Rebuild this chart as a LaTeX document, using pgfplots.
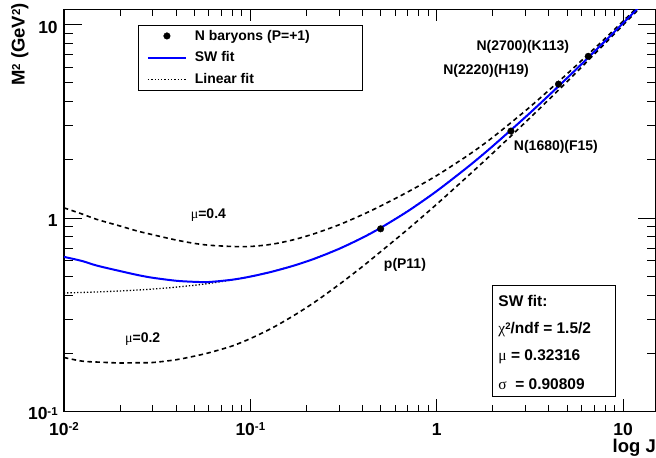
\documentclass[border=0pt]{standalone}
\usepackage{fontspec}
\setmainfont{Liberation Sans}
\newfontfamily\grk{Liberation Serif}
\usepackage{pgfplots}
\pgfplotsset{compat=1.18}
\newcommand{\supT}[1]{\raisebox{4.6pt}{\fontsize{11.5}{12}\selectfont\bfseries #1}}
\newcommand{\supS}[1]{\raisebox{4.2pt}{\fontsize{9.5}{10}\selectfont\bfseries #1}}
\newcommand{\gk}[1]{{\grk\mdseries #1}}
\definecolor{rootblue}{RGB}{0,0,255}
\begin{document}
\begin{tikzpicture}
\begin{axis}[
  name=ax,
  xmode=log, ymode=log,
  scale only axis, width=593pt, height=402.5pt,
  xmin=0.01, xmax=15, ymin=0.1, ymax=12,
  clip mode=individual,
  axis line style={line width=1.3pt},
  tick style={line width=1pt, black},
  xtick style={/pgfplots/major tick length=12pt, /pgfplots/minor tick length=6.7pt},
  ytick style={/pgfplots/major tick length=17.7pt, /pgfplots/minor tick length=8.7pt},
  xtick={0.01,0.1,1,10},
  ytick={0.1,1,10},
  xticklabels={10\supT{-2}, 10\supT{-1}, 1, 10},
  yticklabels={10\supT{-1}, 1, 10},
  xticklabel style={font=\fontsize{17.5}{18}\selectfont\bfseries, anchor=base, yshift=-24pt, inner sep=0pt},
  yticklabel style={font=\fontsize{17.5}{18}\selectfont\bfseries, anchor=base east, yshift=-8.5pt, xshift=-6pt, inner sep=0pt},
  xlabel={log J},
  xlabel style={at={(rel axis cs:1,0)}, anchor=north east, yshift=-28pt, inner sep=0pt, font=\fontsize{18.5}{19}\selectfont\bfseries},
  ylabel={M\supT{2} (GeV\supT{2})},
  ylabel style={at={(rel axis cs:-0.0742,1.016)}, anchor=east, inner sep=0pt, font=\fontsize{18.5}{19}\selectfont\bfseries},
  legend image code/.code={\draw[mark repeat=2,mark phase=2,#1] plot coordinates {(0pt,0pt) (19pt,0pt) (38pt,0pt)};},
  legend style={at={(rel axis cs:0.1248,0.9615)}, anchor=north west, draw=black, fill=white,
    inner xsep=9pt, inner ysep=5pt, row sep=10pt, column sep=8pt,
    font=\fontsize{14}{16}\selectfont\bfseries, nodes={inner sep=0pt}},
  legend cell align=left,
]
\addlegendimage{only marks, mark=*, mark size=3.3pt, black}
\addlegendentry{\makebox[159pt][l]{N baryons (P=+1)}}
\addlegendimage{rootblue, line width=2pt}
\addlegendentry{\makebox[159pt][l]{SW fit}}
\addlegendimage{black, line width=1.3pt, dash pattern=on 1.3pt off 2pt}
\addlegendentry{\makebox[159pt][l]{Linear fit}}

% Linear fit (dotted)
\addplot[forget plot, black, line width=1.3pt, dash pattern=on 1.3pt off 2pt] coordinates {
(0.01,0.4098) (0.0125,0.4123) (0.015,0.4147) (0.02,0.4196) (0.025,0.4245) (0.03,0.4294)
(0.04,0.4392) (0.05,0.449) (0.06,0.4588) (0.08,0.4784) (0.1,0.498) (0.13,0.5274)
(0.17,0.5666) (0.22,0.6156) (0.3,0.694) (0.4,0.792) (0.5,0.89) (0.7,1.086) (1,1.38)
(1.5,1.87) (2,2.36) (3,3.34) (4,4.32) (5,5.30) (6,6.28) (8,8.24) (10,10.2) (12,12.16) (13,13.14)};
% mu = 0.4 (dashed)
\addplot[forget plot, black, line width=1.6pt, dash pattern=on 4.5pt off 3.5pt, smooth] coordinates {
(0.01,1.13) (0.0125,1.05) (0.015,0.985) (0.02,0.91) (0.025,0.855) (0.03,0.82) (0.04,0.77)
(0.05,0.74) (0.06,0.724) (0.08,0.713) (0.1,0.713) (0.13,0.732) (0.17,0.772) (0.22,0.83)
(0.3,0.924) (0.4,1.042) (0.5,1.155) (0.7,1.366) (1,1.66) (1.5,2.14) (2,2.62) (3,3.60)
(4,4.59) (5,5.57) (6,6.55) (8,8.50) (10,10.45) (12,12.4) (13,13.38)};
% mu = 0.2 (dashed)
\addplot[forget plot, black, line width=1.6pt, dash pattern=on 4.5pt off 3.5pt, smooth] coordinates {
(0.01,0.19) (0.0125,0.182) (0.015,0.18) (0.02,0.178) (0.025,0.1785) (0.03,0.179) (0.04,0.185)
(0.05,0.193) (0.06,0.201) (0.08,0.218) (0.1,0.238) (0.13,0.269) (0.17,0.312) (0.22,0.366)
(0.3,0.454) (0.4,0.562) (0.5,0.67) (0.7,0.876) (1,1.18) (1.5,1.68) (2,2.17) (3,3.14)
(4,4.11) (5,5.08) (6,6.06) (8,8.02) (10,9.98) (12,11.94) (13,12.92)};
% SW fit
\addplot[forget plot, rootblue, line width=2pt, smooth] coordinates {
(0.01,0.63) (0.0125,0.60) (0.015,0.568) (0.02,0.532) (0.025,0.507) (0.03,0.491) (0.04,0.474)
(0.05,0.468) (0.06,0.467) (0.08,0.480) (0.1,0.498) (0.13,0.5274)
(0.17,0.5666) (0.22,0.6156) (0.3,0.694) (0.4,0.792) (0.5,0.89) (0.7,1.086) (1,1.38)
(1.5,1.87) (2,2.36) (3,3.34) (4,4.32) (5,5.30) (6,6.28) (8,8.24) (10,10.2) (12,12.16) (13,13.14)};
% data
\addplot[forget plot, only marks, mark=*, mark size=3.3pt, black] coordinates {
(0.5,0.88) (2.5,2.82) (4.5,4.93) (6.5,6.87)};

\begin{scope}[font=\fontsize{14}{16}\selectfont\bfseries]
\node at (rel axis cs:0.775,0.908) {N(2700)(K113)};
\node at (rel axis cs:0.713,0.846) {N(2220)(H19)};
\node at (rel axis cs:0.831,0.658) {N(1680)(F15)};
\node at (rel axis cs:0.576,0.365) {p(P11)};
\node at (rel axis cs:0.244,0.489) {\gk{μ}=0.4};
\node at (rel axis cs:0.133,0.181) {\gk{μ}=0.2};
\end{scope}
\draw[line width=0.8pt, fill=white] (rel axis cs:0.7234,0.0373) rectangle (rel axis cs:0.931,0.313);
\begin{scope}[font=\fontsize{15.5}{17}\selectfont\bfseries]
\node[anchor=base west, inner sep=0pt] at (rel axis cs:0.7336,0.2609) {SW fit:};
\node[anchor=base west, inner sep=0pt] at (rel axis cs:0.7336,0.1938) {\gk{χ}\supS{2}/ndf = 1.5/2};
\node[anchor=base west, inner sep=0pt] at (rel axis cs:0.7336,0.1255) {\gk{μ} = 0.32316};
\node[anchor=base west, inner sep=0pt] at (rel axis cs:0.7336,0.0534) {\gk{σ}\ \ = 0.90809};
\end{scope}
\end{axis}
\pgfresetboundingbox
\path ([xshift=-64pt,yshift=-46pt]ax.south west) rectangle ([yshift=9.5pt]ax.north east);
\end{tikzpicture}
\end{document}
